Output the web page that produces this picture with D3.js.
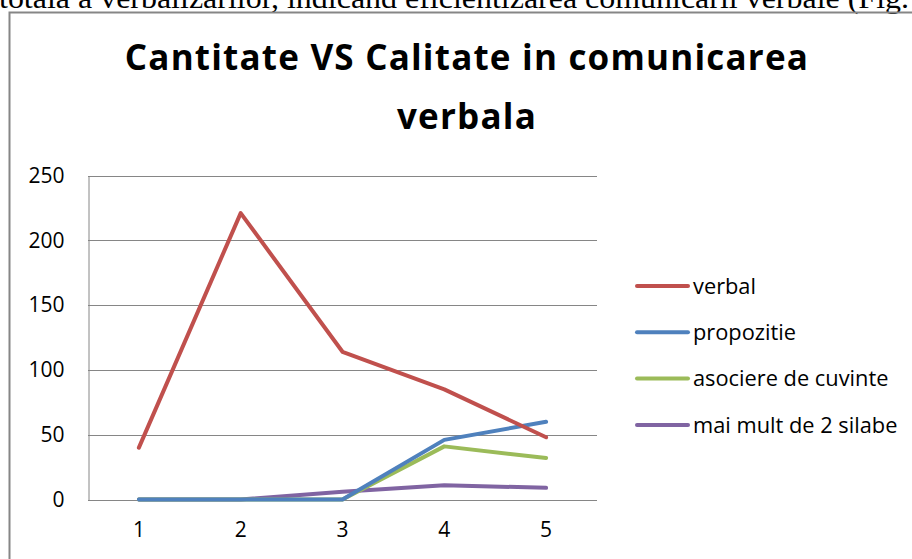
<!DOCTYPE html>
<html>
<head>
<meta charset="utf-8">
<script src="https://cdn.jsdelivr.net/npm/d3@7"></script>
<style>
  body { margin: 0; background: #fff; }
  svg { display: block; }
</style>
</head>
<body>
<svg width="912" height="559"></svg>
<script>
const categories = ["1", "2", "3", "4", "5"];
const yTicks = [0, 50, 100, 150, 200, 250];
const seriesNames = ["verbal", "propozitie", "asociere de cuvinte", "mai mult de 2 silabe"];
const verbal = [40, 221, 114, 85, 48];
const propozitie = [0, 0, 0, 46, 60];
const asociere = [0, 0, 0, 41, 32];
const maiMult = [0, 0, 6, 11, 9];
const colors = ["#C0504D", "#4F81BD", "#9BBB59", "#8064A2"];

const series = [verbal, propozitie, asociere, maiMult].map((v, i) => ({name: seriesNames[i], values: v, color: colors[i]}));

let svg = d3.select("svg");
const font = "'Open Sans', Lato, sans-serif";

// page text above the chart (cut off)
svg.append("text")
    .attr("x", -1).attr("y", 8)
    .attr("font-family", "'Liberation Serif', serif")
    .attr("font-size", 30)
    .attr("textLength", 910)
    .attr("lengthAdjust", "spacingAndGlyphs")
    .attr("fill", "#000")
    .text("totala a verbalizarilor, indicand eficientizarea comunicarii verbale (Fig.");

// chart frame
svg.append("path")
    .attr("d", "M9.5,559 V12.5 H912")
    .attr("fill", "none")
    .attr("stroke", "#868686")
    .attr("stroke-width", 2);

// title
const title = svg.append("text")
    .attr("text-anchor", "middle")
    .attr("font-family", font)
    .attr("font-weight", "bold")
    .attr("font-size", 35)
    .attr("letter-spacing", 1.2)
    .attr("fill", "#000");
title.append("tspan").attr("x", 467).attr("y", 70).text("Cantitate VS Calitate in comunicarea");
title.append("tspan").attr("x", 467).attr("y", 129).text("verbala");

const plot = {left: 88, right: 597, top: 175.5, bottom: 499.5};

let x = d3.scaleBand().domain(categories).range([plot.left, plot.right]);
let y = d3.scaleLinear().domain([0, 250]).range([plot.bottom, plot.top]);

// gridlines
svg.append("g")
    .selectAll("line")
    .data(yTicks)
    .enter()
    .append("line")
    .attr("x1", plot.left).attr("x2", plot.right)
    .attr("y1", d => Math.round(y(d)) + 0.5).attr("y2", d => Math.round(y(d)) + 0.5)
    .attr("stroke", "#868686");

// y axis
let yAxis = svg.append("g")
    .attr("transform", `translate(${plot.left + 0.5},0)`)
    .call(d3.axisLeft(y).tickValues(yTicks).tickSize(0).tickPadding(24));
yAxis.select(".domain").attr("stroke", "#868686");
yAxis.selectAll("text")
    .attr("font-family", font).attr("font-size", 21).attr("fill", "#000");

// x axis
let xAxis = svg.append("g")
    .attr("transform", `translate(0,${Math.round(plot.bottom) + 0.5})`)
    .call(d3.axisBottom(x).tickSize(0).tickPadding(22));
xAxis.select(".domain").remove();
xAxis.selectAll("text")
    .attr("font-family", font).attr("font-size", 21).attr("fill", "#000");

// lines (drawn in reverse so verbal sits on top)
let line = d3.line()
    .x((d, i) => x(categories[i]) + x.bandwidth() / 2)
    .y(d => y(d));

svg.append("g")
    .selectAll("path")
    .data(series.slice().reverse())
    .enter()
    .append("path")
    .attr("d", d => line(d.values))
    .attr("fill", "none")
    .attr("stroke", d => d.color)
    .attr("stroke-width", 4)
    .attr("stroke-linejoin", "round")
    .attr("stroke-linecap", "round");

// legend
let legend = svg.append("g")
    .selectAll("g")
    .data(series)
    .enter()
    .append("g")
    .attr("transform", (d, i) => `translate(637,${286 + i * 46.3})`);

legend.append("line")
    .attr("x1", 0).attr("x2", 51)
    .attr("stroke", d => d.color)
    .attr("stroke-width", 4)
    .attr("stroke-linecap", "round");

legend.append("text")
    .attr("x", 56).attr("y", 0)
    .attr("dy", "0.35em")
    .attr("font-family", font)
    .attr("font-size", 21.8)
    .attr("fill", "#000")
    .text(d => d.name);
</script>
</body>
</html>
